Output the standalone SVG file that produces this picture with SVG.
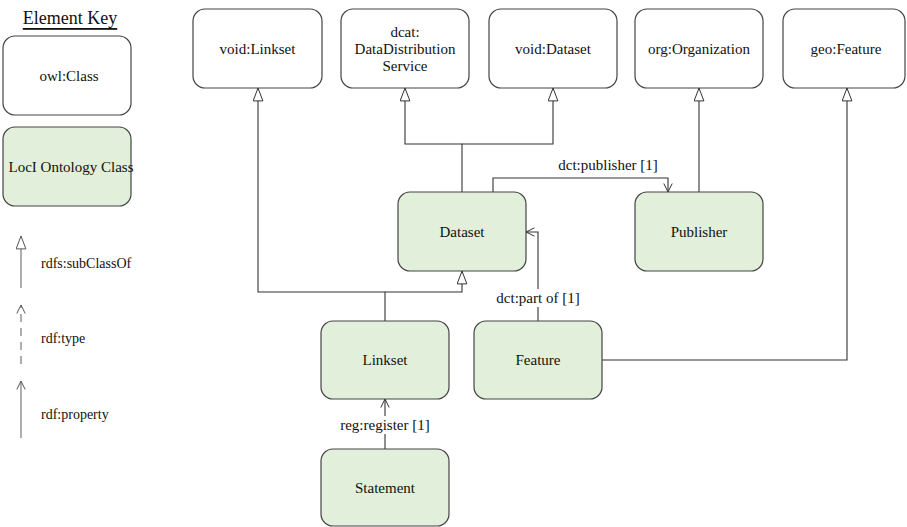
<svg xmlns="http://www.w3.org/2000/svg" width="907" height="527" viewBox="0 0 907 527">
  <style>
    text { font-family: "Liberation Serif", "Times New Roman", "DejaVu Serif", serif; font-size: 15px; fill: #111; }
    .lbl { text-anchor: middle; dominant-baseline: central; }
    .keytxt { font-size: 14px; dominant-baseline: central; }
    .owl { fill: #ffffff; stroke: #444; stroke-width: 1.2; }
    .loci { fill: #e2efda; stroke: #444; stroke-width: 1.2; }
    .edge { fill: none; stroke: #333; stroke-width: 1.1; }
    .key { fill: none; stroke: #777; stroke-width: 1.2; }
    .halo { fill: #ffffff; }
  </style>
  <defs>
    <marker id="sub" viewBox="0 0 14 11" refX="13.5" refY="5.5" markerWidth="14" markerHeight="11" markerUnits="userSpaceOnUse" orient="auto">
      <path d="M0.6,0.6 L13.4,5.5 L0.6,10.4 Z" fill="#fff" stroke="#333" stroke-width="1"/>
    </marker>
    <marker id="prop" viewBox="0 0 10 10" refX="9" refY="5" markerWidth="10" markerHeight="10" markerUnits="userSpaceOnUse" orient="auto">
      <path d="M0.5,0.8 L9,5 L0.5,9.2" fill="none" stroke="#333" stroke-width="1"/>
    </marker>
    <marker id="subKey" viewBox="0 0 14 11" refX="13.5" refY="5.5" markerWidth="14" markerHeight="11" markerUnits="userSpaceOnUse" orient="auto">
      <path d="M0.6,0.6 L13.4,5.5 L0.6,10.4 Z" fill="#fff" stroke="#555" stroke-width="1"/>
    </marker>
    <marker id="propKey" viewBox="0 0 10 10" refX="9" refY="5" markerWidth="10" markerHeight="10" markerUnits="userSpaceOnUse" orient="auto">
      <path d="M0.5,0.8 L9,5 L0.5,9.2" fill="none" stroke="#555" stroke-width="1"/>
    </marker>
  </defs>

  <!-- Key -->
  <g id="key">
    <text x="70" y="18" class="lbl" style="font-size:18px; text-decoration: underline;">Element Key</text>
    <g id="key-owl">
      <rect x="3" y="36" width="128" height="79" rx="12" class="owl"/>
      <text x="69" y="75.5" class="lbl">owl:Class</text>
    </g>
    <g id="key-loci">
      <rect x="3" y="127" width="128" height="79" rx="12" class="loci"/>
      <text x="71" y="166.5" class="lbl">LocI Ontology Class</text>
    </g>
    <line x1="21" y1="288" x2="21" y2="236" class="key" marker-end="url(#subKey)"/>
    <text x="41" y="263" class="keytxt">rdfs:subClassOf</text>
    <line x1="21" y1="364" x2="21" y2="305" class="key" stroke-dasharray="8,6" marker-end="url(#propKey)"/>
    <text x="41" y="338" class="keytxt">rdf:type</text>
    <line x1="21" y1="438" x2="21" y2="381" class="key" marker-end="url(#propKey)"/>
    <text x="41" y="414" class="keytxt">rdf:property</text>
  </g>

  <!-- Connectors -->
  <g id="connectors">
    <!-- Linkset subclass of void:Linkset and Dataset -->
    <path d="M385,321 V292 H258 V88" class="edge" marker-end="url(#sub)"/>
    <path d="M385,292 H462 V271" class="edge" marker-end="url(#sub)"/>
    <!-- Dataset subclass of dcat:DataDistributionService and void:Dataset -->
    <path d="M462,192 V144 H405 V88" class="edge" marker-end="url(#sub)"/>
    <path d="M462,144 H553 V88" class="edge" marker-end="url(#sub)"/>
    <!-- Publisher subclass of org:Organization -->
    <path d="M699,192 V88" class="edge" marker-end="url(#sub)"/>
    <!-- Feature subclass of geo:Feature -->
    <path d="M602,360 H847 V88" class="edge" marker-end="url(#sub)"/>
    <!-- dct:publisher -->
    <path d="M493,192 V178 H668 V192" class="edge" marker-end="url(#prop)"/>
    <text x="608" y="165" class="lbl">dct:publisher [1]</text>
    <!-- dct:part of -->
    <path d="M538,321 V232 H526" class="edge" marker-end="url(#prop)"/>
    <rect x="493" y="289" width="90" height="18" class="halo"/>
    <text x="538" y="297.5" class="lbl">dct:part of [1]</text>
    <!-- reg:register -->
    <path d="M385,449 V399" class="edge" marker-end="url(#prop)"/>
    <rect x="337" y="416" width="96" height="18" class="halo"/>
    <text x="385" y="424.5" class="lbl">reg:register [1]</text>
  </g>

  <!-- External classes -->
  <g id="void-linkset">
    <rect x="193" y="9" width="129" height="79" rx="12" class="owl"/>
    <text x="257.5" y="48.5" class="lbl">void:Linkset</text>
  </g>
  <g id="dcat-dds">
    <rect x="341" y="9" width="128" height="79" rx="12" class="owl"/>
    <text x="405" y="32" class="lbl">dcat:</text>
    <text x="405" y="49" class="lbl">DataDistribution</text>
    <text x="405" y="66" class="lbl">Service</text>
  </g>
  <g id="void-dataset">
    <rect x="489" y="9" width="128" height="79" rx="12" class="owl"/>
    <text x="553" y="48.5" class="lbl">void:Dataset</text>
  </g>
  <g id="org-organization">
    <rect x="635" y="9" width="128" height="79" rx="12" class="owl"/>
    <text x="699" y="48.5" class="lbl">org:Organization</text>
  </g>
  <g id="geo-feature">
    <rect x="783" y="9" width="122" height="79" rx="12" class="owl"/>
    <text x="846" y="48.5" class="lbl">geo:Feature</text>
  </g>

  <!-- LocI classes -->
  <g id="dataset">
    <rect x="398" y="192" width="128" height="79" rx="12" class="loci"/>
    <text x="462" y="231.5" class="lbl">Dataset</text>
  </g>
  <g id="publisher">
    <rect x="635" y="192" width="128" height="79" rx="12" class="loci"/>
    <text x="699" y="231.5" class="lbl">Publisher</text>
  </g>
  <g id="linkset">
    <rect x="321" y="321" width="128" height="78" rx="12" class="loci"/>
    <text x="385" y="360" class="lbl">Linkset</text>
  </g>
  <g id="feature">
    <rect x="474" y="321" width="128" height="78" rx="12" class="loci"/>
    <text x="538" y="360" class="lbl">Feature</text>
  </g>
  <g id="statement">
    <rect x="321" y="449" width="128" height="77" rx="12" class="loci"/>
    <text x="385" y="488" class="lbl">Statement</text>
  </g>
</svg>
